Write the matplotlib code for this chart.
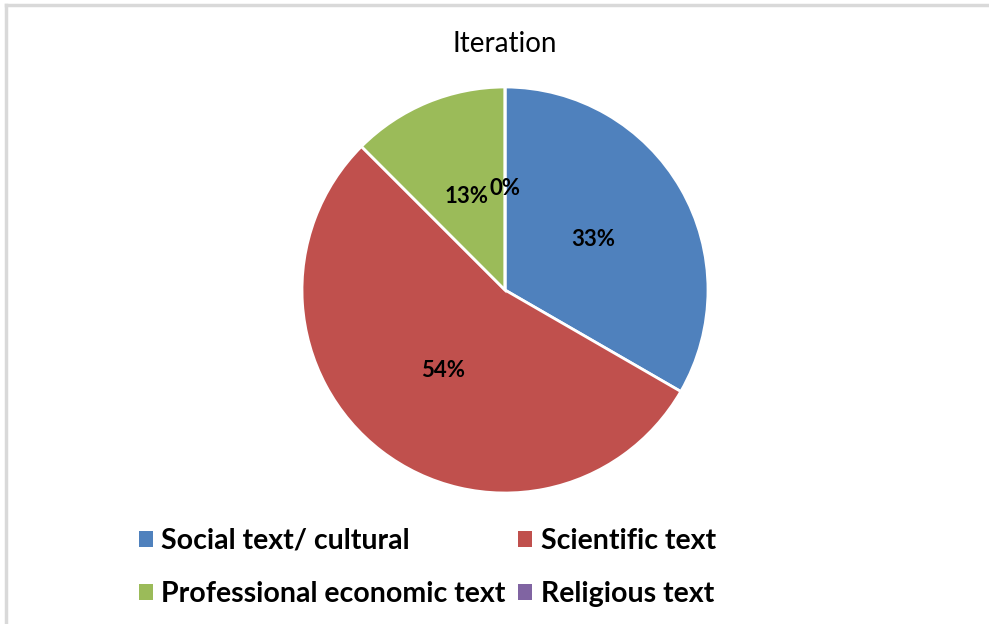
import math
import matplotlib
matplotlib.use("Agg")
import matplotlib.pyplot as plt
from matplotlib.patches import Patch
from matplotlib.lines import Line2D

title = "Iteration"
categories = ["Social text/ cultural", "Scientific text",
              "Professional economic text", "Religious text"]
values = [8, 13, 3, 0]
colors = ["#4F81BD", "#C0504D", "#9BBB59", "#8064A2"]

W, H = 989, 624
fig = plt.figure(figsize=(W / 100, H / 100), dpi=100)
fig.patch.set_facecolor("white")

# border (top & left visible)
fig.add_artist(Line2D([6 / W, 1], [1 - 5 / H, 1 - 5 / H], color="#D9D9D9", lw=2.5,
                      transform=fig.transFigure))
fig.add_artist(Line2D([6 / W, 6 / W], [0, 1 - 5 / H], color="#D9D9D9", lw=2.5,
                      transform=fig.transFigure))

cx, cy, r = 505, 290, 203
ax = fig.add_axes([(cx - r) / W, (H - cy - r) / H, 2 * r / W, 2 * r / H])


def pct(p):
    return "%d%%" % math.floor(p + 0.5 + 1e-9)


wedges, texts, autotexts = ax.pie(
    values, colors=colors, startangle=90, counterclock=False,
    autopct=pct, pctdistance=0.5,
    wedgeprops=dict(edgecolor="white", linewidth=2),
    textprops=dict(fontsize=16, fontweight="bold", color="black", family="Lato"),
)
ax.set_xlim(-1, 1)
ax.set_ylim(-1, 1)
ax.set_aspect("equal")
ax.axis("off")

fig.text(cx / W, 1 - 52 / H, title, ha="center", va="baseline", fontsize=20,
         family="Lato", color="black")

# legend filled row-wise as in the reference
order = [0, 2, 1, 3]
handles = [Patch(facecolor=colors[i], edgecolor="none") for i in order]
labels = [categories[i] for i in order]
leg = fig.legend(handles, labels, loc="upper left",
                 bbox_to_anchor=(139 / W, 1 - 528 / H), ncol=2, frameon=False,
                 prop=dict(family="Lato", weight="bold", size=20.5),
                 borderaxespad=0, borderpad=0,
                 handlelength=0.48, handleheight=0.48, handletextpad=0.3,
                 columnspacing=0.45, labelspacing=0.95)

fig.savefig("out.png", dpi=100, facecolor="white")
